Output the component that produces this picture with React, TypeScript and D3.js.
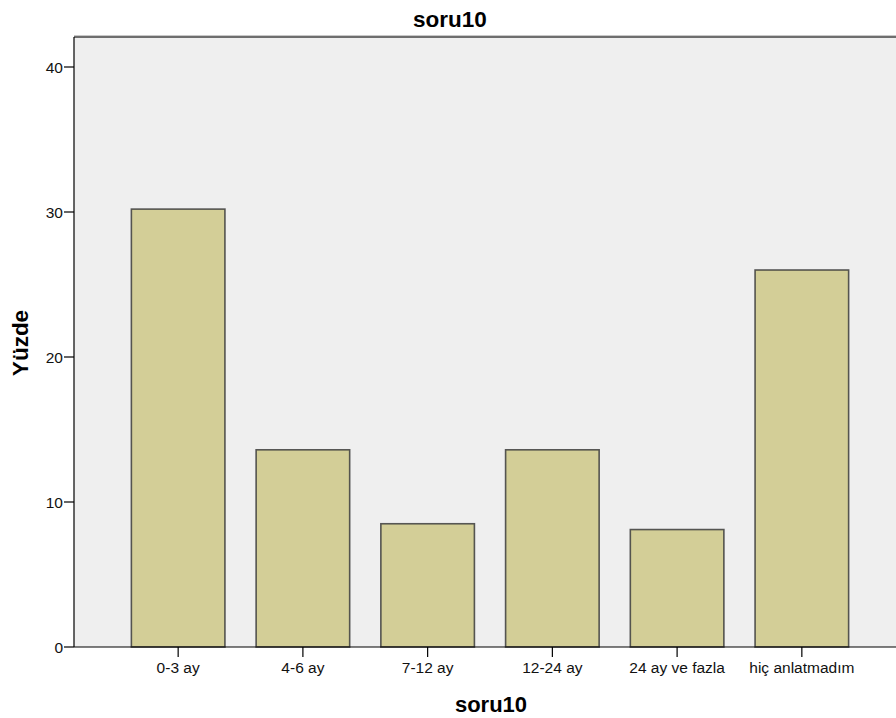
import React from "react";
import * as d3 from "d3";

const categories = ["0-3 ay", "4-6 ay", "7-12 ay", "12-24 ay", "24 ay ve fazla", "hiç anlatmadım"];
const values = [30.2, 13.6, 8.5, 13.6, 8.1, 26.0];
const yTicks = [0, 10, 20, 30, 40];
const title = "soru10";
const xTitle = "soru10";
const yTitle = "Yüzde";

export default function App() {
  const W = 896, H = 718;
  const left = 74, right = 906, top = 37, bottom = 647;
  const x = d3.scaleBand<string>().domain(categories).range([left, right]).paddingInner(0.25).paddingOuter(0.46);
  const y = d3.scaleLinear().domain([0, 40]).range([bottom, 67]);
  const font = "'Liberation Sans', Arial, sans-serif";
  return (
    <svg width={W} height={H} style={{ position: "absolute", left: 0, top: 0, display: "block" }} fontFamily={font}>
      <rect x={0} y={0} width={W} height={H} fill="#fff" />
      <rect x={left} y={top} width={right - left} height={bottom - top} fill="#efefef" />
      <line x1={left} x2={right} y1={top} y2={top} stroke="#6e6e6e" strokeWidth={2} />
      <line x1={left} x2={right} y1={top - 1.5} y2={top - 1.5} stroke="#c8c8c8" strokeWidth={1} />
      {categories.map((c, i) => (
        <rect key={c} x={x(c)!} y={y(values[i])} width={x.bandwidth()} height={bottom - y(values[i])}
          fill="#d3ce97" stroke="#3c3c3c" strokeWidth={1.6} strokeOpacity={0.85} />
      ))}
      <line x1={left} x2={left} y1={top} y2={bottom} stroke="#000" strokeWidth={1.2} />
      <line x1={left} x2={right} y1={bottom} y2={bottom} stroke="#000" strokeWidth={1.2} />
      {yTicks.map((t) => (
        <g key={t}>
          <line x1={left - 10} x2={left} y1={y(t)} y2={y(t)} stroke="#000" strokeWidth={1.2} />
          <text x={left - 11} y={y(t)} dy="0.36em" textAnchor="end" fontSize={15.5} fill="#111">{t}</text>
        </g>
      ))}
      {categories.map((c) => {
        const cx = x(c)! + x.bandwidth() / 2;
        return (
          <g key={c}>
            <line x1={cx} x2={cx} y1={bottom} y2={bottom + 10} stroke="#000" strokeWidth={1.2} />
            <text x={cx} y={673} textAnchor="middle" fontSize={15.5} fill="#111">{c}</text>
          </g>
        );
      })}
      <text x={450} y={27} textAnchor="middle" fontSize={22.5} fontWeight="bold" fill="#000">{title}</text>
      <text x={491} y={712} textAnchor="middle" fontSize={22} fontWeight="bold" fill="#000">{xTitle}</text>
      <text transform={`translate(28,${(top + bottom) / 2 + 1}) rotate(-90)`} textAnchor="middle" fontSize={22.5} fontWeight="bold" fill="#000">{yTitle}</text>
    </svg>
  );
}
